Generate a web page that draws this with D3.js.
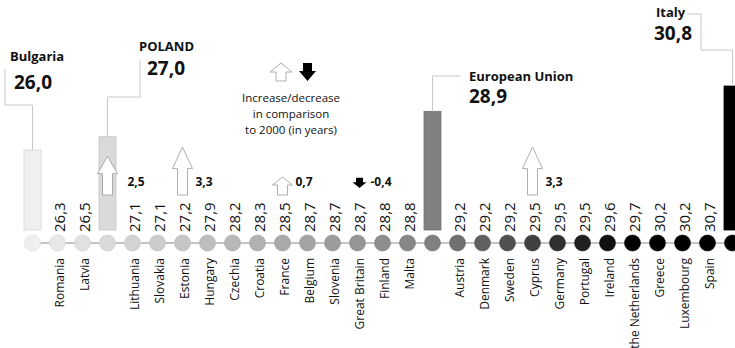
<!DOCTYPE html>
<html>
<head>
<meta charset="utf-8">
<script src="https://cdn.jsdelivr.net/npm/d3@7"></script>
<style>
  body { margin: 0; background: #fff; }
  text { font-family: "Open Sans", sans-serif; fill: #111; }
</style>
</head>
<body>
<div id="chart"></div>
<script>
// Median age, countries sorted ascending
const countries = ["Bulgaria", "Romania", "Latvia", "POLAND", "Lithuania", "Slovakia", "Estonia",
  "Hungary", "Czechia", "Croatia", "France", "Belgium", "Slovenia", "Great Britain", "Finland",
  "Malta", "European Union", "Austria", "Denmark", "Sweden", "Cyprus", "Germany", "Portugal",
  "Ireland", "the Netherlands", "Greece", "Luxembourg", "Spain", "Italy"];
const values = [26.0, 26.3, 26.5, 27.0, 27.1, 27.1, 27.2, 27.9, 28.2, 28.3, 28.5, 28.7, 28.7, 28.7,
  28.8, 28.8, 28.9, 29.2, 29.2, 29.2, 29.5, 29.5, 29.5, 29.6, 29.7, 30.2, 30.2, 30.7, 30.8];

// highlighted countries get a bar and a callout
const highlighted = ["Bulgaria", "POLAND", "European Union", "Italy"];

// change vs 2000 (years)
const changeCountries = ["POLAND", "Estonia", "France", "Great Britain", "Cyprus"];
const changeValues = [2.5, 3.3, 0.7, -0.4, 3.3];

const width = 735, height = 348;
const fmt = v => d3.format(".1f")(v).replace(".", ",").replace("\u2212", "-");

const svg = d3.select("#chart").append("svg")
  .attr("width", width)
  .attr("height", height);

const x = d3.scalePoint().domain(countries).range([32.5, 732.5]);
const y = d3.scaleLinear().domain([20, 30.8]).range([230, 86]);
const color = d3.scaleLinear().domain([0, 16, 24]).range(["#efefef", "#808080", "#000"]).clamp(true);
const arrowLen = d3.scaleLinear().domain([0, 3.3]).range([10, 48]);

const dotY = 243;
const data = countries.map((c, i) => ({ name: c, value: values[i], i, fill: color(i) }));

// base line
svg.append("line")
  .attr("x1", x(countries[0])).attr("x2", width)
  .attr("y1", dotY).attr("y2", dotY)
  .attr("stroke", "#c4c4c4").attr("stroke-width", 2);

// dots
svg.selectAll(".dot")
  .data(data)
  .join("circle")
  .attr("class", "dot")
  .attr("cx", d => x(d.name))
  .attr("cy", dotY)
  .attr("r", 8)
  .attr("fill", d => d.fill)
  .attr("stroke", d => d3.color(d.fill).darker(0.25))
  .attr("stroke-width", 0.6);

const plain = data.filter(d => !highlighted.includes(d.name));
const hi = data.filter(d => highlighted.includes(d.name));

// value labels
svg.selectAll(".val")
  .data(plain)
  .join("text")
  .attr("class", "val")
  .attr("transform", d => `translate(${x(d.name) + 7.5},232) rotate(-90)`)
  .style("font-size", "15px")
  .text(d => fmt(d.value));

// country labels
svg.selectAll(".cty")
  .data(plain)
  .join("text")
  .attr("class", "cty")
  .attr("transform", d => `translate(${x(d.name) + 6.5},258) rotate(-90)`)
  .attr("text-anchor", "end")
  .style("font-size", "12px")
  .text(d => d.name);

// bars
svg.selectAll(".bar")
  .data(hi)
  .join("rect")
  .attr("class", "bar")
  .attr("x", d => x(d.name) - 8.5)
  .attr("y", d => y(d.value))
  .attr("width", 17)
  .attr("height", d => y(20) - y(d.value))
  .attr("fill", d => d.fill)
  .attr("stroke", d => d3.color(d.fill).darker(0.3))
  .attr("stroke-width", 0.8);

// callouts: label block and leader route
const callouts = [
  { name: "Bulgaria", label: "Bulgaria", tx: 10, ty: 61, vx: 14, vy: 89, route: [[null, 105], [5, 105], [5, 69]] },
  { name: "POLAND", label: "POLAND", tx: 139, ty: 51, vx: 147, vy: 75, route: [[null, 97], [140, 97], [140, 60]] },
  { name: "European Union", label: "European Union", tx: 469, ty: 81, vx: 469, vy: 103, route: [[null, 76], [460, 76]] },
  { name: "Italy", label: "Italy", tx: 656, ty: 17, vx: 654, vy: 40, route: [[null, 50], [701, 50], [701, 14], [687, 14]] }
];

const line = d3.line();
callouts.forEach(c => {
  const d = data.find(e => e.name === c.name);
  const bx = x(d.name);
  const pts = [[bx, y(d.value)]].concat(c.route.map(p => [p[0] === null ? bx : p[0], p[1]]));
  svg.append("path")
    .attr("d", line(pts))
    .attr("fill", "none")
    .attr("stroke", "#c8c8c8")
    .attr("stroke-width", 1);
  svg.append("text")
    .attr("x", c.tx).attr("y", c.ty)
    .style("font-size", "13px").style("font-weight", "bold")
    .text(c.label);
  svg.append("text")
    .attr("x", c.vx).attr("y", c.vy)
    .style("font-size", "19px").style("font-weight", "bold")
    .text(fmt(d.value));
});

// arrow path: cx centre, top y, length, head width, shaft width, head length, pointing up/down
function arrowPath(cx, top, len, w, s, head, up) {
  const hw = w / 2, hs = s / 2;
  if (up) {
    return `M${cx},${top} L${cx + hw},${top + head} L${cx + hs},${top + head} L${cx + hs},${top + len}
      L${cx - hs},${top + len} L${cx - hs},${top + head} L${cx - hw},${top + head} Z`;
  }
  const b = top + len;
  return `M${cx},${b} L${cx + hw},${b - head} L${cx + hs},${b - head} L${cx + hs},${top}
    L${cx - hs},${top} L${cx - hs},${b - head} L${cx - hw},${b - head} Z`;
}

// change arrows
changeCountries.forEach((c, i) => {
  const v = changeValues[i];
  const cx = x(c);
  const len = arrowLen(Math.abs(v));
  if (v >= 0) {
    svg.append("path")
      .attr("d", arrowPath(cx, 195 - len, len, 20, 10, len * 0.45, true))
      .attr("fill", "#fff").attr("stroke", "#999").attr("stroke-width", 0.8);
  } else {
    svg.append("path")
      .attr("d", arrowPath(cx + 2, 188 - len * 0.7, len * 0.7, 14, 7, len * 0.4, false))
      .attr("fill", "#000");
  }
  svg.append("text")
    .attr("x", cx + (highlighted.includes(c) ? 20 : 13))
    .attr("y", 186)
    .style("font-size", "12px").style("font-weight", "bold")
    .text(fmt(v));
});

// legend
svg.append("path")
  .attr("d", arrowPath(281, 63, 18, 22, 10, 9, true))
  .attr("fill", "#fff").attr("stroke", "#999").attr("stroke-width", 0.8);
svg.append("path")
  .attr("d", arrowPath(307.5, 63, 18, 17, 9, 10, false))
  .attr("fill", "#000");

const legendLines = ["Increase/decrease", "in comparison", "to 2000 (in years)"];
svg.append("text")
  .attr("text-anchor", "middle")
  .style("font-size", "11.5px")
  .selectAll("tspan")
  .data(legendLines)
  .join("tspan")
  .attr("x", 291)
  .attr("y", (d, i) => 102 + i * 16)
  .text(d => d);
</script>
</body>
</html>
